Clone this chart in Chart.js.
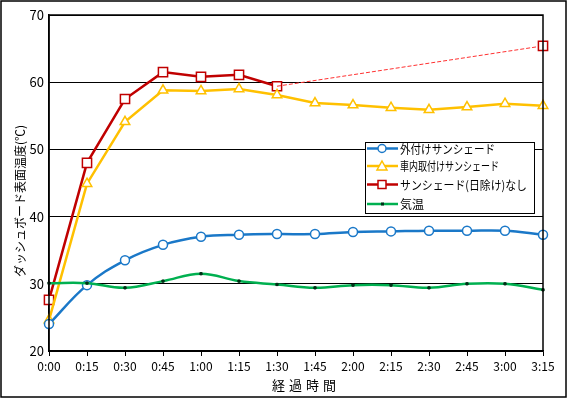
<!DOCTYPE html>
<html>
<head>
<meta charset="utf-8">
<script src="https://cdn.jsdelivr.net/npm/chart.js@4.4.1/dist/chart.umd.min.js"></script>
<style>
html,body{margin:0;padding:0;background:#fff;}
canvas{display:block;}
</style>
</head>
<body>
<canvas id="c" width="568" height="399"></canvas>
<script>
const categories = ["0:00","0:15","0:30","0:45","1:00","1:15","1:30","1:45","2:00","2:15","2:30","2:45","3:00","3:15"];
const yTicks = [20,30,40,50,60,70];
const seriesNames = ["外付けサンシェード","車内取付けサンシェード","サンシェード(日除け)なし","気温"];
const outerShade = [24.0,29.8,33.5,35.8,37.0,37.3,37.4,37.4,37.7,37.8,37.9,37.9,37.9,37.3];
const innerShade = [24.6,44.9,54.1,58.8,58.7,59.0,58.1,56.9,56.6,56.2,55.9,56.3,56.8,56.5];
const noShade = [27.6,48.0,57.5,61.5,60.8,61.1,59.4,null,null,null,null,null,null,null];
const noShadeExtension = [null,null,null,null,null,null,59.4,null,null,null,null,null,null,65.4];
const airTemp = [30.1,30.1,29.4,30.4,31.5,30.4,29.9,29.4,29.8,29.8,29.4,30.0,30.0,29.1];

const FONT = "'Noto Sans CJK JP', 'Noto Sans', sans-serif";
const BLUE = '#1A78C8', YELLOW = '#FFC000', RED = '#C00000', GREEN = '#00B050';

const extras = {
  id: 'extras',
  afterDraw(chart) {
    const ctx = chart.ctx, a = chart.chartArea;
    ctx.save();
    // plot frame
    ctx.strokeStyle = '#000'; ctx.lineWidth = 1.5;
    ctx.strokeRect(a.left, a.top, a.right - a.left, a.bottom - a.top);
    // outer frame
    ctx.lineWidth = 1.5;
    ctx.strokeRect(1, 1, 565, 396);
    // x title
    ctx.fillStyle = '#000';
    ctx.font = '13px ' + FONT;
    ctx.textAlign = 'center'; ctx.textBaseline = 'middle';
    const xt = '経過時間';
    const step = 17;
    const cx = 304;
    for (let i = 0; i < xt.length; i++) {
      ctx.fillText(xt[i], cx + (i - 1.5) * step, 385);
    }
    // y title
    ctx.save();
    ctx.translate(20, 201);
    ctx.rotate(-Math.PI / 2);
    ctx.font = '12px ' + FONT;
    ctx.fillText('ダッシュボード表面温度(℃)', 0, 0, 155);
    ctx.restore();
    // legend
    const lx = 365, ly = 142, lw = 169, lh = 71;
    ctx.fillStyle = '#fff';
    ctx.fillRect(lx, ly, lw, lh);
    ctx.strokeStyle = '#000'; ctx.lineWidth = 1;
    ctx.strokeRect(lx + 0.5, ly + 0.5, lw, lh);
    const rows = [148.5, 166, 184.5, 204];
    const cols = [BLUE, YELLOW, RED, GREEN];
    const widths = [95, 99, 127, 24];
    for (let i = 0; i < 4; i++) {
      const y = rows[i];
      ctx.strokeStyle = cols[i]; ctx.lineWidth = 2.5;
      ctx.beginPath(); ctx.moveTo(367, y); ctx.lineTo(398, y); ctx.stroke();
      ctx.lineWidth = 1.5;
      ctx.fillStyle = '#fff';
      if (i === 0) {
        ctx.beginPath(); ctx.arc(382, y, 4, 0, Math.PI * 2); ctx.fill(); ctx.stroke();
      } else if (i === 1) {
        ctx.beginPath(); ctx.moveTo(382, y - 5); ctx.lineTo(387, y + 4); ctx.lineTo(377, y + 4); ctx.closePath(); ctx.fill(); ctx.stroke();
      } else if (i === 2) {
        ctx.strokeStyle = RED;
        ctx.fillRect(378, y - 4, 8, 8); ctx.strokeRect(378, y - 4, 8, 8);
      } else {
        ctx.fillStyle = '#003018';
        ctx.fillRect(381, y - 1.5, 3, 3);
      }
      ctx.fillStyle = '#000';
      ctx.font = '12px ' + FONT;
      ctx.textAlign = 'left'; ctx.textBaseline = 'middle';
      ctx.fillText(seriesNames[i], 400, y + 0.5, widths[i]);
    }
    ctx.restore();
  }
};

new Chart(document.getElementById('c'), {
  type: 'line',
  data: {
    labels: categories,
    datasets: [
      {
        label: seriesNames[3], data: airTemp, borderColor: GREEN, borderWidth: 2.5,
        tension: 0.4, pointStyle: 'rect', pointRadius: 1.6, pointBackgroundColor: '#003018',
        pointBorderColor: '#003018', pointBorderWidth: 1
      },
      {
        label: seriesNames[0], data: outerShade, borderColor: BLUE, borderWidth: 2.5,
        tension: 0.4, pointStyle: 'circle', pointRadius: 4.5, pointBackgroundColor: '#fff',
        pointBorderColor: BLUE, pointBorderWidth: 1.5
      },
      {
        label: seriesNames[1], data: innerShade, borderColor: YELLOW, borderWidth: 2.5,
        tension: 0, pointStyle: 'triangle', pointRadius: 5.5, pointBackgroundColor: '#fff',
        pointBorderColor: YELLOW, pointBorderWidth: 1.5
      },
      {
        label: 'ext', data: noShadeExtension, borderColor: '#FF3030', borderWidth: 1,
        borderDash: [4, 2], spanGaps: true, tension: 0,
        pointStyle: 'rect', pointRadius: noShadeExtension.map((v, i) => i === 13 ? 6.5 : 0),
        pointBackgroundColor: '#fff', pointBorderColor: RED, pointBorderWidth: 1.5
      },
      {
        label: seriesNames[2], data: noShade, borderColor: RED, borderWidth: 2.5,
        tension: 0, pointStyle: 'rect', pointRadius: 6.5, pointBackgroundColor: '#fff',
        pointBorderColor: RED, pointBorderWidth: 1.5
      }
    ]
  },
  options: {
    responsive: false,
    animation: false,
    layout: { padding: { left: 0, top: 15, right: 25, bottom: 0 } },
    plugins: { legend: { display: false }, tooltip: { enabled: false } },
    scales: {
      x: {
        type: 'category', offset: false,
        grid: { drawOnChartArea: false, drawTicks: true, tickLength: 5, color: '#000', lineWidth: 1 },
        border: { color: '#000', width: 1.5 },
        ticks: { color: '#000', font: { family: FONT, size: 12 }, padding: 3, maxRotation: 0, autoSkip: false },
        afterFit(s) { s.height = 48; }
      },
      y: {
        min: 20, max: 70,
        afterBuildTicks(s) { s.ticks = yTicks.map(v => ({ value: v })); },
        grid: { color: '#000', lineWidth: 1, drawTicks: false },
        border: { color: '#000', width: 1.5 },
        ticks: { color: '#000', font: { family: FONT, size: 13 }, padding: 5 },
        afterFit(s) { s.width = 49; }
      }
    }
  },
  plugins: [extras]
});
</script>
</body>
</html>
